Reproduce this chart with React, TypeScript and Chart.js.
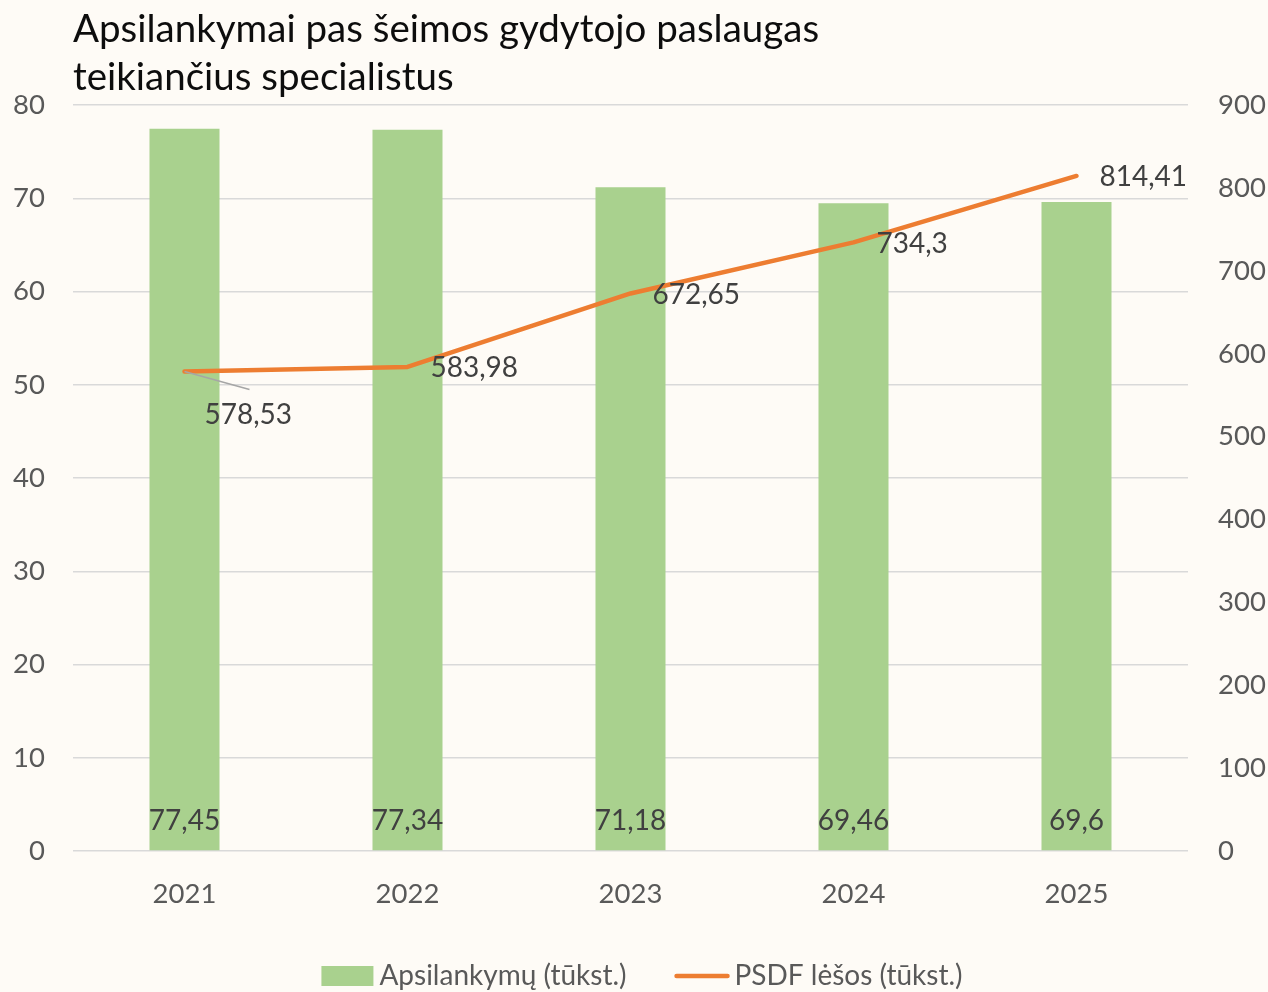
import React, { useEffect, useRef } from "react";
import { Chart, registerables } from "chart.js";

Chart.register(...registerables);

const categories = ["2021", "2022", "2023", "2024", "2025"];
const visits = [77.45, 77.34, 71.18, 69.46, 69.6];
const funds = [578.53, 583.98, 672.65, 734.3, 814.41];
const visitsLabel = "Apsilankymų (tūkst.)";
const fundsLabel = "PSDF lėšos (tūkst.)";
const titleLines = ["Apsilankymai pas šeimos gydytojo paslaugas", "teikiančius specialistus"];

const FONT = "Lato, 'Open Sans', sans-serif";
const BG = "#FEFBF6";
const GREEN = "#A9D18E";
const ORANGE = "#ED7D31";
const TEXT = "#404040";
const TICK = "#595959";

// label offsets for line points (dx, dy) and leader flag
const lineLabelOffsets = [
  { dx: 20, dy: 44, leader: true },
  { dx: 23, dy: 1, leader: false },
  { dx: 22, dy: 2, leader: false },
  { dx: 23, dy: 2, leader: false },
  { dx: 23, dy: 1, leader: false },
];

const fmt = (v: number) => String(v).replace(".", ",");

const customDraw = {
  id: "customDraw",
  afterDatasetsDraw(chart: any) {
    const ctx = chart.ctx;
    ctx.save();
    // bar labels
    const barMeta = chart.getDatasetMeta(0);
    ctx.font = `28px ${FONT}`;
    ctx.fillStyle = TEXT;
    ctx.textAlign = "center";
    ctx.textBaseline = "middle";
    barMeta.data.forEach((el: any, i: number) => {
      ctx.fillText(fmt(visits[i]), el.x, el.base - 29);
    });
    // line labels
    const lineMeta = chart.getDatasetMeta(1);
    ctx.textAlign = "left";
    lineMeta.data.forEach((el: any, i: number) => {
      const o = lineLabelOffsets[i];
      if (o.leader) {
        ctx.strokeStyle = "#A6A6A6";
        ctx.lineWidth = 1.5;
        ctx.beginPath();
        ctx.moveTo(el.x, el.y);
        ctx.lineTo(el.x + 65, el.y + 18);
        ctx.stroke();
      }
      ctx.fillStyle = TEXT;
      ctx.fillText(fmt(funds[i]), el.x + o.dx, el.y + o.dy);
    });
    ctx.restore();
  },
  afterDraw(chart: any) {
    const ctx = chart.ctx;
    ctx.save();
    // title
    ctx.font = `38.5px ${FONT}`;
    ctx.fillStyle = "#0D0D0D";
    ctx.textAlign = "left";
    ctx.textBaseline = "alphabetic";
    ctx.fillText(titleLines[0], 73, 42);
    ctx.fillText(titleLines[1], 73, 90);
    // legend
    ctx.font = `28px ${FONT}`;
    const w1 = ctx.measureText(visitsLabel).width;
    const w2 = ctx.measureText(fundsLabel).width;
    const total = 52 + 6 + w1 + 48 + 55 + 5 + w2;
    let x = 642 - total / 2;
    const y = 976;
    ctx.fillStyle = GREEN;
    ctx.fillRect(x, y - 10, 52, 20);
    x += 58;
    ctx.fillStyle = TICK;
    ctx.textBaseline = "middle";
    ctx.fillText(visitsLabel, x, y);
    x += w1 + 48;
    ctx.strokeStyle = ORANGE;
    ctx.lineWidth = 4.5;
    ctx.lineCap = "round";
    ctx.beginPath();
    ctx.moveTo(x + 2, y);
    ctx.lineTo(x + 53, y);
    ctx.stroke();
    x += 60;
    ctx.fillText(fundsLabel, x, y);
    ctx.restore();
  },
};

export default function App() {
  const ref = useRef<HTMLCanvasElement>(null);
  useEffect(() => {
    document.body.style.margin = "0";
    const chart = new Chart(ref.current!, {
      type: "bar",
      data: {
        labels: categories,
        datasets: [
          {
            type: "bar",
            label: visitsLabel,
            data: visits,
            backgroundColor: GREEN,
            yAxisID: "y",
            categoryPercentage: 1,
            barPercentage: 0.314,
            order: 2,
          },
          {
            type: "line",
            label: fundsLabel,
            data: funds,
            borderColor: ORANGE,
            backgroundColor: ORANGE,
            borderWidth: 4.5,
            borderCapStyle: "round",
            borderJoinStyle: "round",
            pointRadius: 0,
            tension: 0,
            yAxisID: "y1",
            order: 1,
          },
        ],
      },
      options: {
        animation: false,
        responsive: false,
        maintainAspectRatio: false,
        layout: { padding: { top: 105, bottom: 0, left: 0, right: 0 } },
        plugins: {
          legend: { display: false },
          title: { display: false },
          tooltip: { enabled: false },
        },
        scales: {
          x: {
            grid: { display: false, drawTicks: false },
            border: { display: false },
            ticks: { color: TICK, font: { family: FONT, size: 27.5 }, padding: 27 },
            afterFit: (s: any) => { s.height = 141; },
          },
          y: {
            position: "left",
            min: 0,
            max: 80,
            ticks: { stepSize: 10, color: TICK, font: { family: FONT, size: 27.5 }, padding: 28 },
            grid: { color: "#D9D9D9", lineWidth: 1.5, drawTicks: false },
            border: { display: false },
            afterFit: (s: any) => { s.width = 73; },
          },
          y1: {
            position: "right",
            min: 0,
            max: 900,
            ticks: { stepSize: 100, color: TICK, font: { family: FONT, size: 27.5 }, padding: 30 },
            grid: { display: false, drawTicks: false },
            border: { display: false },
            afterFit: (s: any) => { s.width = 80; },
          },
        },
      },
      plugins: [customDraw],
    } as any);
    return () => chart.destroy();
  }, []);
  return (
    <div style={{ width: 1268, height: 992, background: BG, position: "relative" }}>
      <canvas ref={ref} width={1268} height={992} style={{ display: "block" }} />
    </div>
  );
}
